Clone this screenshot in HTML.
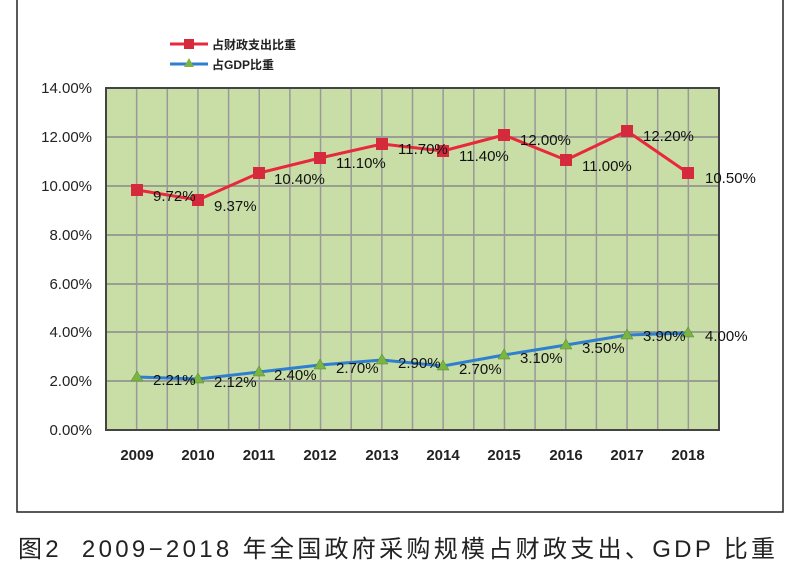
<!DOCTYPE html><html><head><meta charset="utf-8"><style>
body{margin:0;background:#fff;}
svg text{font-family:"Liberation Sans","Noto Sans CJK SC",sans-serif;}
</style></head><body>
<svg width="800" height="583" viewBox="0 0 800 583" xmlns="http://www.w3.org/2000/svg">
<rect width="800" height="583" fill="#fff"/>
<polyline points="17,0 17,512 783,512 783,0" fill="none" stroke="#222" stroke-width="1.5"/>
<rect x="106" y="88" width="613" height="342" fill="#c8dea6"/>
<g stroke="#888" stroke-width="1.5">
<line x1="106" y1="137" x2="719" y2="137"/><line x1="106" y1="186" x2="719" y2="186"/>
<line x1="106" y1="235" x2="719" y2="235"/><line x1="106" y1="284" x2="719" y2="284"/>
<line x1="106" y1="332" x2="719" y2="332"/><line x1="106" y1="381" x2="719" y2="381"/>
</g>
<g stroke="#999" stroke-width="1.5" id="v"></g>
<script>
var g=document.getElementById('v');for(var i=1;i<20;i++){var x=106+i*30.65;var l=document.createElementNS('http://www.w3.org/2000/svg','line');l.setAttribute('x1',x);l.setAttribute('x2',x);l.setAttribute('y1',88);l.setAttribute('y2',430);g.appendChild(l);}
</script>
<rect x="106" y="88" width="613" height="342" fill="none" stroke="#444" stroke-width="2"/>
<g font-size="15" fill="#222" text-anchor="end">
<text x="92" y="93">14.00%</text><text x="92" y="142">12.00%</text><text x="92" y="191">10.00%</text>
<text x="92" y="240">8.00%</text><text x="92" y="289">6.00%</text><text x="92" y="337">4.00%</text>
<text x="92" y="386">2.00%</text><text x="92" y="435">0.00%</text>
</g>
<g font-size="15" fill="#222" text-anchor="middle" font-weight="bold">
<text x="137" y="460">2009</text><text x="198" y="460">2010</text><text x="259" y="460">2011</text>
<text x="320" y="460">2012</text><text x="382" y="460">2013</text><text x="443" y="460">2014</text>
<text x="504" y="460">2015</text><text x="566" y="460">2016</text><text x="627" y="460">2017</text>
<text x="688" y="460">2018</text>
</g>
<polyline points="137,190 198,200 259,173 320,158 382,144 443,151 504,135 566,160 627,131 688,173" fill="none" stroke="#e8283c" stroke-width="3"/>
<g fill="#d42a3c">
<rect x="131" y="184" width="12" height="12"/><rect x="192" y="194" width="12" height="12"/><rect x="253" y="167" width="12" height="12"/>
<rect x="314" y="152" width="12" height="12"/><rect x="376" y="138" width="12" height="12"/><rect x="437" y="145" width="12" height="12"/>
<rect x="498" y="129" width="12" height="12"/><rect x="560" y="154" width="12" height="12"/><rect x="621" y="125" width="12" height="12"/>
<rect x="682" y="167" width="12" height="12"/>
</g>
<polyline points="137,377 198,379 259,372 320,365 382,360 443,366 504,355 566,345 627,335 688,333" fill="none" stroke="#2e7fd0" stroke-width="3"/>
<g fill="#7cb342" stroke="#4a8a2a" stroke-width="0.5">
<polygon points="137,371 143,381 131,381"/><polygon points="198,373 204,383 192,383"/><polygon points="259,366 265,376 253,376"/>
<polygon points="320,359 326,369 314,369"/><polygon points="382,354 388,364 376,364"/><polygon points="443,360 449,370 437,370"/>
<polygon points="504,349 510,359 498,359"/><polygon points="566,339 572,349 560,349"/><polygon points="627,329 633,339 621,339"/>
<polygon points="688,327 694,337 682,337"/>
</g>
<g font-size="15" fill="#111">
<text x="153" y="201">9.72%</text><text x="214" y="211">9.37%</text><text x="274" y="184">10.40%</text>
<text x="336" y="168">11.10%</text><text x="398" y="154">11.70%</text><text x="459" y="161">11.40%</text>
<text x="520" y="145">12.00%</text><text x="582" y="171">11.00%</text><text x="643" y="141">12.20%</text>
<text x="705" y="183">10.50%</text>
<text x="153" y="385">2.21%</text><text x="214" y="387">2.12%</text><text x="274" y="380">2.40%</text>
<text x="336" y="373">2.70%</text><text x="398" y="368">2.90%</text><text x="459" y="374">2.70%</text>
<text x="520" y="363">3.10%</text><text x="582" y="353">3.50%</text><text x="643" y="341">3.90%</text>
<text x="705" y="341">4.00%</text>
</g>
<line x1="170" y1="44" x2="208" y2="44" stroke="#e8283c" stroke-width="3"/>
<rect x="184" y="39" width="10" height="10" fill="#d42a3c"/>
<text x="212" y="49" font-size="12" font-weight="bold" fill="#222">占财政支出比重</text>
<line x1="170" y1="64" x2="208" y2="64" stroke="#2e7fd0" stroke-width="3"/>
<polygon points="189,58 194,67 184,67" fill="#7cb342"/>
<text x="212" y="69" font-size="12" font-weight="bold" fill="#222">占GDP比重</text>
<text x="18" y="557" font-size="24" fill="#222" textLength="757" lengthAdjust="spacing">图2 &#160;2009−2018 年全国政府采购规模占财政支出、GDP 比重</text>
</svg>
</body></html>
